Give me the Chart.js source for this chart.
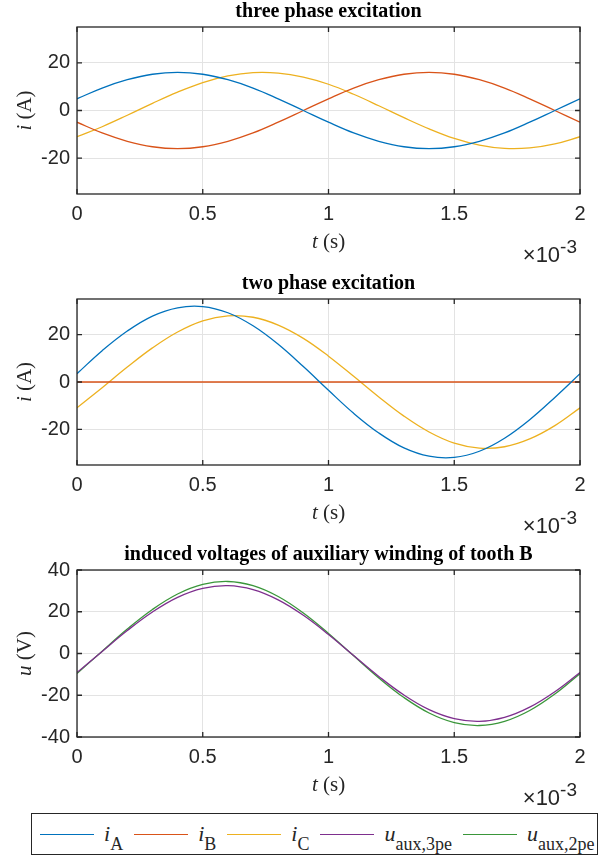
<!DOCTYPE html>
<html>
<head>
<meta charset="utf-8">
<script src="https://cdn.jsdelivr.net/npm/chart.js@4"></script>
<style>
    body { margin: 0; background: #fff; }
    #page { position: relative; width: 611px; height: 859px; }
    #page canvas { position: absolute; left: 0; }
    #legend {
        position: absolute; left: 31px; top: 813px; width: 565px; height: 40px;
        border: 1px solid #262626; display: flex; align-items: center;
        font-family: "Liberation Serif", serif; color: #262626; box-sizing: content-box;
    }
    .lg-line { width: 54px; height: 0; margin-left: 11px; }
    .lg-line:first-child { margin-left: 8px; }
    .lg-text { margin-left: 10px; font-size: 22px; white-space: nowrap; line-height: 22px; }
    .lg-text i { font-style: italic; }
    .lg-text sub { font-size: 18px; vertical-align: -9px; line-height: 0; }
</style>
</head>
<body>
<div id="page">
    <canvas id="plotThree" width="611" height="270" style="top:0px"></canvas>
    <canvas id="plotTwo" width="611" height="270" style="top:271px"></canvas>
    <canvas id="plotVolt" width="611" height="270" style="top:542px"></canvas>
    <div id="legend"></div>
</div>
<script>
// time axis in ms (shown as x10^-3 s)
const tMs = [0, 0.1, 0.2, 0.3, 0.4, 0.5, 0.6, 0.7, 0.8, 0.9, 1.0, 1.1, 1.2, 1.3, 1.4, 1.5, 1.6, 1.7, 1.8, 1.9, 2.0];
const xTicks = [0, 0.5, 1, 1.5, 2];

// three phase excitation (A)
const iA3 = [4.9, 9.4, 12.9, 15.2, 16.0, 15.2, 12.9, 9.4, 4.9, 0.0, -4.9, -9.4, -12.9, -15.2, -16.0, -15.2, -12.9, -9.4, -4.9, 0.0, 4.9];
const iB3 = [-4.9, -9.4, -12.9, -15.2, -16.0, -15.2, -12.9, -9.4, -4.9, 0.0, 4.9, 9.4, 12.9, 15.2, 16.0, 15.2, 12.9, 9.4, 4.9, 0.0, -4.9];
const iC3 = [-11.0, -6.8, -2.0, 3.0, 7.7, 11.7, 14.5, 15.9, 15.7, 14.0, 11.0, 6.8, 2.0, -3.0, -7.7, -11.7, -14.5, -15.9, -15.7, -14.0, -11.0];

// two phase excitation (A)
const iA2 = [3.5, 13.2, 21.5, 27.8, 31.3, 31.8, 29.2, 23.7, 15.9, 6.5, -3.5, -13.2, -21.5, -27.8, -31.3, -31.8, -29.2, -23.7, -15.9, -6.5, 3.5];
const iB2 = [0, 0, 0, 0, 0, 0, 0, 0, 0, 0, 0, 0, 0, 0, 0, 0, 0, 0, 0, 0, 0];
const iC2 = [-10.9, -2.4, 6.3, 14.4, 21.1, 25.8, 27.9, 27.3, 24.0, 18.4, 10.9, 2.4, -6.3, -14.4, -21.1, -25.8, -27.9, -27.3, -24.0, -18.4, -10.9];

// induced voltages of auxiliary winding (V)
const uAux3pe = [-9.1, 1.0, 11.0, 19.9, 26.9, 31.2, 32.5, 30.6, 25.7, 18.3, 9.1, -1.0, -11.0, -19.9, -26.9, -31.2, -32.5, -30.6, -25.7, -18.3, -9.1];
const uAux2pe = [-9.6, 1.1, 11.7, 21.1, 28.5, 33.1, 34.5, 32.5, 27.3, 19.4, 9.6, -1.1, -11.7, -21.1, -28.5, -33.1, -34.5, -32.5, -27.3, -19.4, -9.6];

const yTicksCurrent = [-20, 0, 20];
const yTicksVolt = [-40, -20, 0, 20, 40];

// legend entries: [symbol, subscript, color]
const legendItems = [
    ['i', 'A', '#0072BD'],
    ['i', 'B', '#D95319'],
    ['i', 'C', '#EDB120'],
    ['u', 'aux,3pe', '#7E2F8E'],
    ['u', 'aux,2pe', '#3A963A']
];

const axisColor = '#262626';

// draw a run of text segments (some italic) centred on cx
function drawRich(ctx, parts, cx, cy, size) {
    const fonts = parts.map(p => (p.italic ? 'italic ' : '') + size + 'px "Liberation Serif"');
    let total = 0;
    const widths = parts.map((p, i) => { ctx.font = fonts[i]; const w = ctx.measureText(p.text).width; total += w; return w; });
    let x = cx - total / 2;
    ctx.textAlign = 'left';
    parts.forEach((p, i) => { ctx.font = fonts[i]; ctx.fillText(p.text, x, cy); x += widths[i]; });
}

// MATLAB-like box, inward ticks, title, labels and exponent
const matlabFrame = {
    id: 'matlabFrame',
    afterDraw(chart, args, opts) {
        const ctx = chart.ctx;
        const a = chart.chartArea;
        const xs = chart.scales.x;
        const ys = chart.scales.y;
        ctx.save();
        ctx.strokeStyle = axisColor;
        ctx.lineWidth = 1.3;
        ctx.strokeRect(a.left, a.top, a.right - a.left, a.bottom - a.top);
        ctx.beginPath();
        xs.ticks.forEach(t => {
            const px = xs.getPixelForValue(t.value);
            ctx.moveTo(px, a.bottom); ctx.lineTo(px, a.bottom - 5);
            ctx.moveTo(px, a.top); ctx.lineTo(px, a.top + 5);
        });
        ys.ticks.forEach(t => {
            const py = ys.getPixelForValue(t.value);
            ctx.moveTo(a.left, py); ctx.lineTo(a.left + 5, py);
            ctx.moveTo(a.right, py); ctx.lineTo(a.right - 5, py);
        });
        ctx.stroke();

        const cx = (a.left + a.right) / 2;
        ctx.textBaseline = 'alphabetic';

        // title
        ctx.fillStyle = '#000';
        ctx.font = 'bold 20px "Liberation Serif"';
        ctx.textAlign = 'center';
        ctx.fillText(opts.title, cx, a.top - 10);

        // x label
        ctx.fillStyle = axisColor;
        drawRich(ctx, [{ text: 't', italic: true }, { text: ' (s)' }], cx, a.bottom + 54, 21);

        // y label
        ctx.save();
        ctx.translate(31, (a.top + a.bottom) / 2);
        ctx.rotate(-Math.PI / 2);
        drawRich(ctx, [{ text: opts.ySym, italic: true }, { text: ' (' + opts.yUnit + ')' }], 0, 0, 21);
        ctx.restore();

        // x10^-3 exponent, right aligned near the axis end
        const base = a.bottom + 68;
        ctx.textAlign = 'left';
        ctx.font = '19px "Liberation Sans"';
        const supW = ctx.measureText('-3').width;
        ctx.font = '22px "Liberation Sans"';
        const mainW = ctx.measureText('\u00d710').width;
        const x0 = a.right - 3 - supW - mainW;
        ctx.fillText('\u00d710', x0, base);
        ctx.font = '19px "Liberation Sans"';
        ctx.fillText('-3', x0 + mainW, base - 9);
        ctx.restore();
    }
};

function makeLine(label, values, color) {
    return {
        label: label,
        data: tMs.map((t, i) => ({ x: t, y: values[i] })),
        borderColor: color,
        borderWidth: 1.3,
        pointRadius: 0,
        tension: 0.4,
        fill: false
    };
}

function createPlot(canvasId, datasets, yMin, yMax, yTicks, padTop, xHeight, frameOpts) {
    const ctx = document.getElementById(canvasId).getContext('2d');
    return new Chart(ctx, {
        type: 'line',
        data: { datasets: datasets },
        plugins: [matlabFrame],
        options: {
            responsive: false,
            animation: false,
            devicePixelRatio: 1,
            layout: { padding: { top: padTop, right: 31, left: 0, bottom: 0 } },
            plugins: {
                legend: { display: false },
                tooltip: { enabled: false },
                matlabFrame: frameOpts
            },
            scales: {
                x: {
                    type: 'linear',
                    min: 0,
                    max: 2,
                    afterBuildTicks: axis => { axis.ticks = xTicks.map(v => ({ value: v })); },
                    afterFit: axis => { axis.height = xHeight; },
                    border: { display: false },
                    grid: { color: '#e3e3e3', lineWidth: 1, drawTicks: false },
                    ticks: {
                        padding: 8,
                        color: axisColor,
                        maxRotation: 0,
                        font: { family: 'Liberation Sans', size: 20 },
                        callback: v => String(v)
                    }
                },
                y: {
                    min: yMin,
                    max: yMax,
                    afterBuildTicks: axis => { axis.ticks = yTicks.map(v => ({ value: v })); },
                    afterFit: axis => { axis.width = 77; },
                    border: { display: false },
                    grid: { color: '#e3e3e3', lineWidth: 1, drawTicks: false },
                    ticks: {
                        padding: 7,
                        color: axisColor,
                        font: { family: 'Liberation Sans', size: 20 },
                        callback: v => String(v)
                    }
                }
            }
        }
    });
}

function buildLegend() {
    const box = document.getElementById('legend');
    legendItems.forEach(item => {
        const line = document.createElement('div');
        line.className = 'lg-line';
        line.style.borderTop = '1.5px solid ' + item[2];
        const text = document.createElement('span');
        text.className = 'lg-text';
        text.innerHTML = '<i>' + item[0] + '</i><sub>' + item[1] + '</sub>';
        box.appendChild(line);
        box.appendChild(text);
    });
}

document.addEventListener('DOMContentLoaded', function() {
    createPlot('plotThree', [
        makeLine('iA', iA3, legendItems[0][2]),
        makeLine('iB', iB3, legendItems[1][2]),
        makeLine('iC', iC3, legendItems[2][2])
    ], -35, 35, yTicksCurrent, 27, 76, { title: 'three phase excitation', ySym: 'i', yUnit: 'A' });

    createPlot('plotTwo', [
        makeLine('iA', iA2, legendItems[0][2]),
        makeLine('iB', iB2, legendItems[1][2]),
        makeLine('iC', iC2, legendItems[2][2])
    ], -35, 35, yTicksCurrent, 28, 76, { title: 'two phase excitation', ySym: 'i', yUnit: 'A' });

    createPlot('plotVolt', [
        makeLine('uaux,3pe', uAux3pe, legendItems[3][2]),
        makeLine('uaux,2pe', uAux2pe, legendItems[4][2])
    ], -40, 40, yTicksVolt, 28, 75, { title: 'induced voltages of auxiliary winding of tooth B', ySym: 'u', yUnit: 'V' });

    buildLegend();
});
</script>
</body>
</html>
